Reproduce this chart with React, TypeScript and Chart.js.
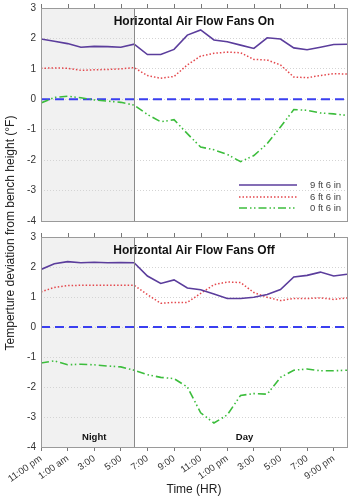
import React, { useEffect, useRef } from "react";
import { Chart, registerables } from "chart.js";
Chart.register(...registerables);

// ---- data ----
const hours = [0, 1, 2, 3, 4, 5, 6, 7, 8, 9, 10, 11, 12, 13, 14, 15, 16, 17, 18, 19, 20, 21, 22, 23];
const tickHours = [0, 2, 4, 6, 8, 10, 12, 14, 16, 18, 20, 22];
const tickLabels = ["11:00 pm", "1:00 am", "3:00", "5:00", "7:00", "9:00", "11:00", "1:00 pm", "3:00", "5:00", "7:00", "9:00 pm"];
const seriesNames = ["9 ft 6 in", "6 ft 6 in", "0 ft 6 in"];
const panelTitles = ["Horizontal Air Flow Fans On", "Horizontal Air Flow Fans Off"];
const periodLabels = ["Night", "Day"];
const periodLabelHours = [4, 15.3];
const nightEndHour = 7;
const zeroHours = [0, 23];
const zeroValues = [0, 0];

const fansOn9ft = [1.98, 1.91, 1.83, 1.71, 1.74, 1.73, 1.71, 1.81, 1.47, 1.47, 1.64, 2.11, 2.28, 1.95, 1.89, 1.78, 1.67, 2.02, 1.98, 1.69, 1.63, 1.71, 1.8, 1.81];
const fansOn6ft = [1.02, 1.03, 1.02, 0.95, 0.97, 0.98, 1.0, 1.04, 0.78, 0.69, 0.75, 1.13, 1.42, 1.51, 1.55, 1.53, 1.31, 1.29, 1.13, 0.73, 0.71, 0.78, 0.84, 0.83];
const fansOn0ft = [-0.12, 0.06, 0.1, 0.05, -0.02, -0.06, -0.1, -0.19, -0.5, -0.74, -0.67, -1.13, -1.57, -1.66, -1.81, -2.05, -1.85, -1.46, -0.91, -0.34, -0.36, -0.45, -0.48, -0.53];

const fansOff9ft = [1.92, 2.11, 2.18, 2.14, 2.16, 2.14, 2.15, 2.14, 1.7, 1.45, 1.57, 1.3, 1.24, 1.1, 0.95, 0.95, 0.99, 1.08, 1.25, 1.67, 1.72, 1.83, 1.7, 1.76];
const fansOff6ft = [1.17, 1.32, 1.38, 1.39, 1.39, 1.39, 1.39, 1.39, 1.08, 0.79, 0.82, 0.82, 1.12, 1.41, 1.5, 1.48, 1.15, 0.99, 0.88, 0.95, 0.95, 0.97, 0.92, 0.97];
const fansOff0ft = [-1.2, -1.13, -1.26, -1.24, -1.26, -1.3, -1.33, -1.44, -1.59, -1.68, -1.72, -2.0, -2.86, -3.2, -2.93, -2.28, -2.22, -2.24, -1.68, -1.44, -1.4, -1.46, -1.46, -1.44];

// ---- styles ----
const FONT = "'Liberation Sans', Arial, sans-serif";
const seriesStyles = [
  { color: "#5b3d9c", width: 1.6, dash: [] as number[] },
  { color: "#e4474c", width: 1.5, dash: [1.5, 2] },
  { color: "#3cbd3c", width: 1.6, dash: [8, 3, 1.5, 2.5, 1.5, 3] },
];
const zeroStyle = { color: "#3a3ff0", width: 2, dash: [9, 5] };

const toXY = (xs: number[], ys: number[]) => xs.map((x, i) => ({ x, y: ys[i] }));

const decorPlugin = {
  id: "panelDecor",
  beforeDraw(chart: any) {
    const { ctx, chartArea: a, scales } = chart;
    ctx.save();
    const x0 = scales.x.getPixelForValue(0);
    const x1 = scales.x.getPixelForValue(nightEndHour);
    ctx.fillStyle = "#f1f1f1";
    ctx.fillRect(x0, a.top, x1 - x0, a.bottom - a.top);
    ctx.restore();
  },
  afterDraw(chart: any, _args: any, opts: any) {
    const { ctx, chartArea: a, scales } = chart;
    ctx.save();
    const xd = Math.round(scales.x.getPixelForValue(nightEndHour)) + 0.5;
    ctx.strokeStyle = "#8a8a8a";
    ctx.lineWidth = 1;
    ctx.setLineDash([]);
    ctx.beginPath();
    ctx.moveTo(xd, a.top);
    ctx.lineTo(xd, a.bottom);
    ctx.stroke();
    ctx.strokeStyle = "#9a9a9a";
    ctx.strokeRect(Math.round(a.left) + 0.5, Math.round(a.top) + 0.5, Math.round(a.right - a.left), Math.round(a.bottom - a.top));
    ctx.strokeStyle = "#777";
    for (const h of tickHours) {
      const x = Math.round(scales.x.getPixelForValue(h)) + 0.5;
      ctx.beginPath();
      ctx.moveTo(x, a.top);
      ctx.lineTo(x, a.top - 4);
      ctx.stroke();
    }
    ctx.fillStyle = "#111";
    ctx.font = `bold 12px ${FONT}`;
    ctx.textAlign = "center";
    ctx.textBaseline = "middle";
    ctx.fillText(opts.title, (a.left + a.right) / 2, a.top + 14);
    if (opts.legend) {
      const lx0 = 239, lx1 = 297, tx = 310;
      const ys = [a.top + 177, a.top + 189, a.top + 200];
      seriesNames.forEach((name, i) => {
        const s = seriesStyles[i];
        ctx.strokeStyle = s.color;
        ctx.lineWidth = s.width;
        ctx.setLineDash(s.dash);
        ctx.beginPath();
        ctx.moveTo(lx0, ys[i]);
        ctx.lineTo(lx1, ys[i]);
        ctx.stroke();
        ctx.setLineDash([]);
        ctx.fillStyle = "#444";
        ctx.font = `9.5px ${FONT}`;
        ctx.textAlign = "left";
        ctx.fillText(name, tx, ys[i]);
      });
    }
    if (opts.periods) {
      ctx.fillStyle = "#111";
      ctx.font = `bold 9.5px ${FONT}`;
      ctx.textAlign = "center";
      periodLabels.forEach((t, i) => {
        ctx.fillText(t, scales.x.getPixelForValue(periodLabelHours[i]), a.bottom - 10);
      });
    }
    ctx.restore();
  },
};

function makeConfig(s9: number[], s6: number[], s0: number[], title: string, bottom: boolean): any {
  const series = [s9, s6, s0];
  const datasets: any[] = series.map((vals, i) => ({
    label: seriesNames[i],
    data: toXY(hours, vals),
    borderColor: seriesStyles[i].color,
    borderWidth: seriesStyles[i].width,
    borderDash: seriesStyles[i].dash,
    pointRadius: 0,
    tension: 0,
    fill: false,
  }));
  datasets.push({
    label: "zero",
    data: toXY(zeroHours, zeroValues),
    borderColor: zeroStyle.color,
    borderWidth: zeroStyle.width,
    borderDash: zeroStyle.dash,
    pointRadius: 0,
    fill: false,
  });
  return {
    type: "line",
    data: { datasets },
    plugins: [decorPlugin],
    options: {
      animation: false,
      responsive: false,
      devicePixelRatio: 1,
      events: [],
      layout: { padding: { top: 0, right: 8, left: 0, bottom: 0 } },
      plugins: {
        legend: { display: false },
        tooltip: { enabled: false },
        panelDecor: { title, legend: !bottom, periods: bottom },
      },
      scales: {
        x: {
          type: "linear",
          display: bottom,
          min: 0,
          max: 23,
          afterBuildTicks: (scale: any) => {
            scale.ticks = tickHours.map((v) => ({ value: v }));
          },
          afterFit: (scale: any) => {
            scale.height = bottom ? 51 : 0;
          },
          ticks: {
            autoSkip: false,
            minRotation: 35,
            maxRotation: 35,
            padding: 2,
            color: "#333",
            font: { family: FONT, size: 9.5 },
            callback: (v: number) => tickLabels[tickHours.indexOf(v)] ?? "",
          },
          grid: { drawOnChartArea: false, drawTicks: true, tickLength: 4, color: "#777" },
          border: { display: false },
          title: {
            display: true,
            text: "Time (HR)",
            color: "#222",
            font: { family: FONT, size: 12 },
            padding: { top: 0, bottom: 1 },
          },
        },
        y: {
          min: -4,
          max: 3,
          afterFit: (scale: any) => {
            scale.width = 41;
          },
          ticks: {
            stepSize: 1,
            padding: 5,
            color: "#333",
            font: { family: FONT, size: 10 },
          },
          grid: {
            drawTicks: false,
            color: (c: any) => (c.tick && (c.tick.value === 3 || c.tick.value === -4) ? "rgba(0,0,0,0)" : "#d4d4d4"),
            lineWidth: 1,
          },
          border: { display: false, dash: [1, 2] },
        },
      },
    },
  };
}

function Panel({ s9, s6, s0, title, bottom, top, height }: any) {
  const ref = useRef<HTMLCanvasElement>(null);
  useEffect(() => {
    const chart = new Chart(ref.current as HTMLCanvasElement, makeConfig(s9, s6, s0, title, bottom));
    return () => chart.destroy();
  }, []);
  return (
    <canvas
      ref={ref}
      width={355}
      height={height}
      style={{ position: "absolute", left: 0, top, width: 355, height, display: "block" }}
    />
  );
}

export default function App() {
  return (
    <div style={{ position: "absolute", left: 0, top: 0, width: 355, height: 500, background: "#fff", overflow: "hidden" }}>
      <Panel s9={fansOn9ft} s6={fansOn6ft} s0={fansOn0ft} title={panelTitles[0]} bottom={false} top={-3} height={235} />
      <Panel s9={fansOff9ft} s6={fansOff6ft} s0={fansOff0ft} title={panelTitles[1]} bottom={true} top={226} height={272} />
      <div
        style={{
          position: "absolute",
          left: 9.5 - 150,
          top: 233 - 7,
          width: 300,
          height: 14,
          lineHeight: "14px",
          textAlign: "center",
          transform: "rotate(-90deg)",
          font: `12px ${FONT}`,
          color: "#222",
          whiteSpace: "nowrap",
        }}
      >
        Temperture deviation from bench height (°F)
      </div>
    </div>
  );
}
